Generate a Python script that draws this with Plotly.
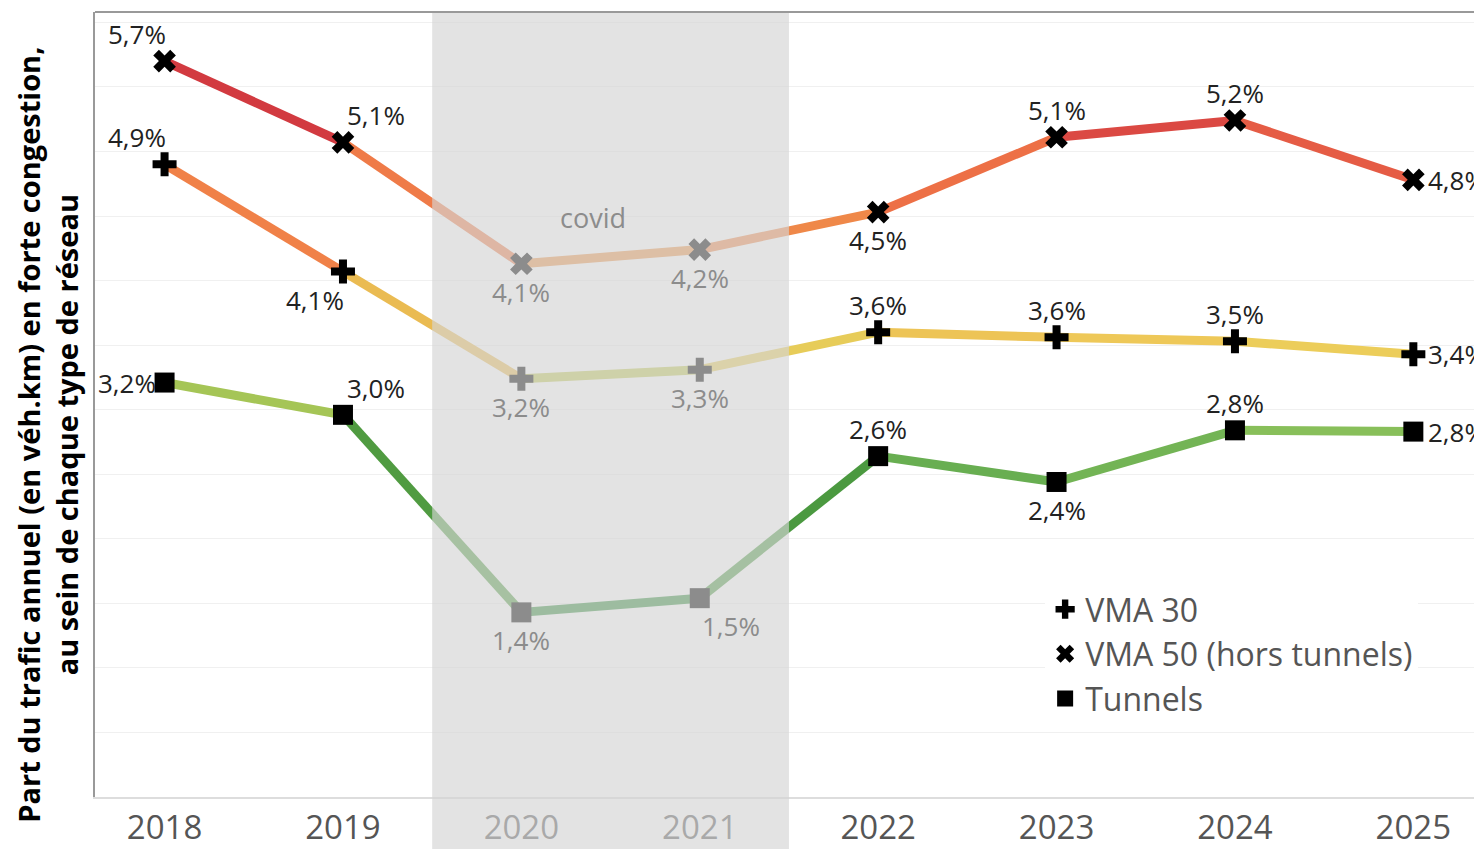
import plotly.graph_objects as go
from plotly.colors import find_intermediate_color

# ---------------- data ----------------
years = [2018, 2019, 2020, 2021, 2022, 2023, 2024, 2025]
year_labels = ["2018", "2019", "2020", "2021", "2022", "2023", "2024", "2025"]
vma30 = [4.90, 4.07, 3.24, 3.31, 3.60, 3.56, 3.53, 3.43]
vma50 = [5.70, 5.07, 4.13, 4.24, 4.53, 5.11, 5.24, 4.78]
tunnels = [3.21, 2.96, 1.43, 1.54, 2.64, 2.44, 2.84, 2.83]
series_names = ["VMA 30", "VMA 50 (hors tunnels)", "Tunnels"]
covid_start, covid_end = 2019.5, 2021.5

# ---------------- styles ----------------
FONT = "Open Sans"
# value -> colour scale (green = low congestion, red = high)
scale_stops = [
    (1.4, (46, 140, 60)),
    (2.2, (80, 155, 65)),
    (2.5, (100, 172, 80)),
    (2.8, (132, 190, 90)),
    (3.2, (178, 200, 85)),
    (3.5, (240, 205, 90)),
    (3.7, (232, 182, 80)),
    (4.1, (238, 155, 75)),
    (4.5, (240, 128, 72)),
    (4.9, (236, 108, 70)),
    (5.1, (223, 78, 68)),
    (5.7, (195, 35, 60)),
]

# label placement codes -> (xanchor, xshift, yshift)
PLACE = {
    "t": ("center", 0, 27), "b": ("center", 0, -28),
    "tl": ("right", 3, 27), "tr": ("left", 2, 27),
    "bl": ("right", 3, -28), "br": ("left", 0, -28),
    "l": ("right", -7, 0), "r": ("left", 13, 0),
}


def color_for(v):
    if v <= scale_stops[0][0]:
        c = scale_stops[0][1]
    elif v >= scale_stops[-1][0]:
        c = scale_stops[-1][1]
    else:
        for (v0, c0), (v1, c1) in zip(scale_stops[:-1], scale_stops[1:]):
            if v0 <= v <= v1:
                c = find_intermediate_color(c0, c1, (v - v0) / (v1 - v0))
                break
    return "rgb(%d,%d,%d)" % tuple(int(round(x)) for x in c)


def fmt(v):
    return ("%.1f" % v).replace(".", ",") + "%"


fig = go.Figure()

series = [
    (vma30, "cross", ["tl", "bl", "b", "b", "t", "t", "t", "r"]),
    (vma50, "x", ["tl", "tr", "b", "b", "b", "t", "t", "r"]),
    (tunnels, "square", ["l", "tr", "b", "br", "t", "b", "t", "r"]),
]

# coloured line segments
for vals, sym, pos in series:
    for i in range(len(years) - 1):
        fig.add_trace(go.Scatter(
            x=years[i:i + 2], y=vals[i:i + 2], mode="lines",
            line=dict(color=color_for((vals[i] + vals[i + 1]) / 2), width=9),
            showlegend=False, hoverinfo="skip"))

# markers
for vals, sym, pos in series:
    fig.add_trace(go.Scatter(
        x=years, y=vals, mode="markers",
        marker=dict(symbol=sym, size=20, color="black"),
        cliponaxis=False, showlegend=False))

# legend-only traces
for name, (vals, sym, pos) in zip(series_names, series):
    fig.add_trace(go.Scatter(
        x=[None], y=[None], mode="markers", name=name,
        marker=dict(symbol=sym, size=20, color="black")))

# value labels
annotations = []
for vals, sym, pos in series:
    for x, v, p in zip(years, vals, pos):
        xa, xs, ys = PLACE[p]
        in_covid = covid_start <= x <= covid_end
        annotations.append(dict(
            x=x, y=v, xref="x", yref="y", text=fmt(v), showarrow=False,
            xanchor=xa, yanchor="middle", xshift=xs, yshift=ys,
            font=dict(family=FONT, size=26,
                      color="#8c8c8c" if in_covid else "#222222")))

annotations += [
    dict(x=2020.4, y=4.49, xref="x", yref="y", text="covid", showarrow=False,
         font=dict(family=FONT, size=27, color="#8c8c8c")),
    dict(x=-0.0345, y=0.462, xref="paper", yref="paper", textangle=-90,
         xanchor="center", yanchor="middle", showarrow=False,
         text="<b>Part du trafic annuel (en véh.km) en forte congestion,<br>au sein de chaque type de réseau</b>",
         font=dict(family=FONT, size=29, color="black")),
]

fig.update_layout(
    width=1474, height=849,
    margin=dict(l=95, r=0, t=12, b=49),
    paper_bgcolor="white", plot_bgcolor="white",
    font=dict(family=FONT, color="#555555"),
    legend=dict(x=0.689, y=0.274, xanchor="left", yanchor="top",
                bgcolor="white", font=dict(family=FONT, size=32, color="#555555"),
                itemwidth=30, tracegroupgap=0),
    xaxis=dict(range=[2017.61, 2025.34], tickvals=years, ticktext=year_labels,
               tickfont=dict(family=FONT, size=33, color="#555555"),
               showgrid=False, zeroline=False, showline=True,
               linecolor="#dddddd", linewidth=2, ticks=""),
    yaxis=dict(range=[0, 6.08], dtick=0.5, showticklabels=False,
               showgrid=True, gridcolor="#f0f0f0", gridwidth=1,
               zeroline=False, showline=True, linecolor="#999999", linewidth=2),
    shapes=[
        dict(type="rect", xref="x", yref="paper", x0=covid_start, x1=covid_end,
             y0=-0.1, y1=1, fillcolor="rgba(212,212,212,0.66)",
             line=dict(width=0), layer="above"),
        dict(type="line", xref="paper", yref="paper", x0=0, x1=1, y0=1, y1=1,
             line=dict(color="#999999", width=2), layer="above"),
    ],
    annotations=annotations,
)

fig.write_html("out.html", config={"displayModeBar": False},
               post_script="document.body.style.margin='0';")
